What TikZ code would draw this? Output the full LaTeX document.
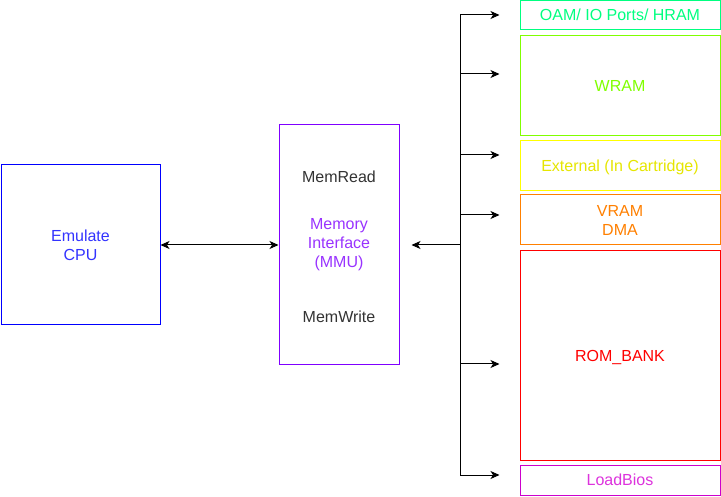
\documentclass[tikz,border=0pt]{standalone}
\usepackage{fontspec}
\setmainfont{Liberation Sans}
\usetikzlibrary{arrows.meta}
\definecolor{cpuc}{HTML}{0000FF}
\definecolor{cputx}{HTML}{3333FF}
\definecolor{mmuc}{HTML}{7F00FF}
\definecolor{mmutx}{HTML}{9933FF}
\definecolor{graytx}{HTML}{333333}
\definecolor{oamc}{HTML}{00FF80}
\definecolor{wramc}{HTML}{80FF00}
\definecolor{extc}{HTML}{FFFF00}
\definecolor{exttx}{HTML}{E6E600}
\definecolor{vramc}{HTML}{FF8000}
\definecolor{romc}{HTML}{FF0000}
\definecolor{biosc}{HTML}{CC00CC}
\definecolor{biostx}{HTML}{DD33DD}
\tikzset{
  box/.style={draw, line width=1pt, inner sep=0pt, align=center,
    font=\fontsize{16}{19}\selectfont},
  lbl/.style={inner sep=0pt, align=center, font=\fontsize{16}{19}\selectfont},
  flat/.style={text height=11.5pt, text depth=0pt},
  arr/.style={line width=1pt, -{Stealth[length=9pt,width=8pt,inset=2.5pt]}},
  darr/.style={line width=1pt, {Stealth[length=9pt,width=8pt,inset=2.5pt]}-{Stealth[length=9pt,width=8pt,inset=2.5pt]}},
  bus/.style={line width=1pt}
}
\begin{document}
\begin{tikzpicture}[x=1pt,y=-1pt]
\useasboundingbox (0,0) rectangle (721,497);
\fill[white] (0,0) rectangle (721,497);
% left boxes
\node[box, draw=cpuc, text=cputx, minimum width=159pt, minimum height=160pt] (cpu) at (80.5,245) {Emulate\\CPU};
\node[box, draw=mmuc, minimum width=120pt, minimum height=240pt] (mmu) at (339,245) {};
\node[lbl, text=graytx] (rd) at (339,177) {MemRead};
\node[lbl, text=mmutx] (mi) at (339,245) {Memory\\Interface\\(MMU)};
\node[lbl, text=graytx] (wr) at (339,317) {MemWrite};
% right boxes
\node[box, flat, draw=oamc, text=oamc, minimum width=200pt, minimum height=29.5pt] (oam) at (620,15.25) {OAM/ IO Ports/ HRAM};
\node[box, flat, draw=wramc, text=wramc, minimum width=200pt, minimum height=100pt] (wram) at (620,85.5) {WRAM};
\node[box, flat, draw=extc, text=exttx, minimum width=200pt, minimum height=50pt] (ext) at (620,165.5) {External (In Cartridge)};
\node[box, draw=vramc, text=vramc, minimum width=200pt, minimum height=50pt] (vram) at (620,220) {VRAM\\DMA};
\node[box, flat, draw=romc, text=romc, minimum width=200pt, minimum height=210pt] (rom) at (620,355.5) {ROM\_BANK};
\node[box, draw=biosc, text=biostx, minimum width=200pt, minimum height=30pt] (bios) at (620,480) {LoadBios};
% bus
\coordinate (btop) at (460,15);
\coordinate (bbot) at (460,475);
\coordinate (bmid) at (460,245);
\coordinate (b1) at (460,15);
\coordinate (b2) at (460,74);
\coordinate (b3) at (460,155);
\coordinate (b4) at (460,215);
\coordinate (b5) at (460,364);
\coordinate (b6) at (460,475);
\draw[bus] (btop) -- (bbot);
\draw[darr] (cpu.east) -- (mmu.west);
\draw[arr, shorten >=12pt] (bmid) -- (mmu.east);
\draw[arr, shorten >=20pt] (b1) -- (oam.west |- b1);
\draw[arr, shorten >=20pt] (b2) -- (wram.west |- b2);
\draw[arr, shorten >=20pt] (b3) -- (ext.west |- b3);
\draw[arr, shorten >=20pt] (b4) -- (vram.west |- b4);
\draw[arr, shorten >=20pt] (b5) -- (rom.west |- b5);
\draw[arr, shorten >=20pt] (b6) -- (bios.west |- b6);
\end{tikzpicture}
\end{document}
